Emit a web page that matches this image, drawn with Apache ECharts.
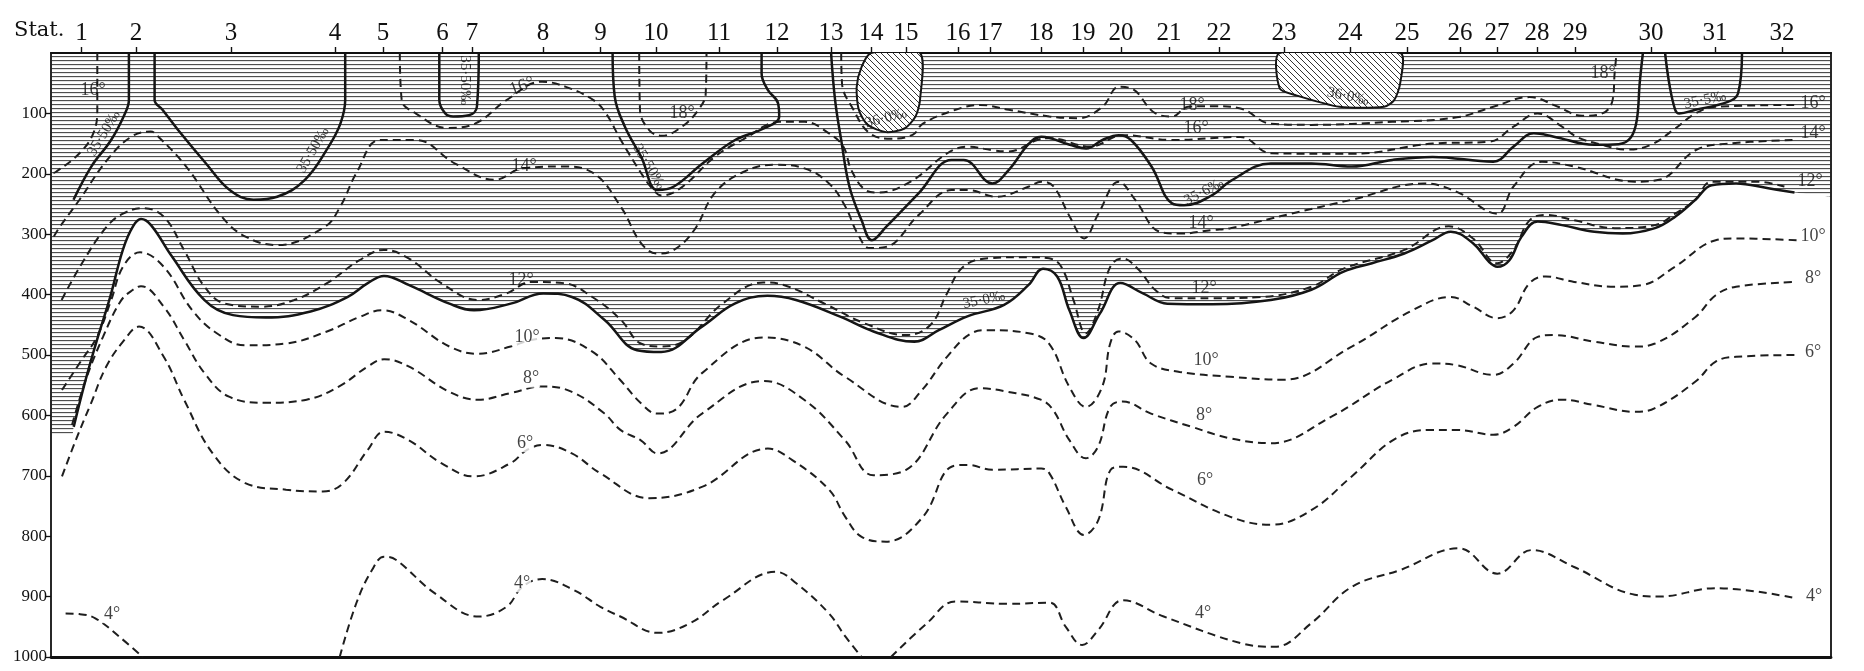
<!DOCTYPE html>
<html><head><meta charset="utf-8">
<script src="https://cdn.jsdelivr.net/npm/echarts@6/dist/echarts.min.js"></script>
<style>html,body{margin:0;padding:0;background:#fff}#c{width:1864px;height:671px}</style>
</head><body><div id="c"></div>
<script>
// ---- stations (distance along section, arbitrary units) ----
const stationNames = ['1','2','3','4','5','6','7','8','9','10','11','12','13','14','15','16','17','18','19','20','21','22','23','24','25','26','27','28','29','30','31','32'];
const stationPos = [30.5,85,180,284,332,391.5,421,492,549.5,605,668,726,780,820,855,907,939,990,1032,1070,1118,1168,1233,1299,1356,1409,1446,1486,1524,1600,1664,1731];
const depthTicks = [100,200,300,400,500,600,700,800,900,1000];
const sectionEnd = 1780;

// ---- isotherms [distance, depth m] ----
const iso4a = [[14.6,928],[28.5,929],[44.3,936],[68,966],[91.7,1000]];
const iso4b = [[288.7,1000],[305.3,911],[321,856],[333,834],[344.8,839],[384.3,895],[427.8,933],[455.5,917],[471.3,884],[491.1,871],[522.7,889],[549.4,917],[569.4,933],[606.6,960],[639.2,944],[671.9,906],[724.9,859],[745.3,878],[778,928],[794.3,966],[810.6,1000]];
const iso4c = [[840,1000],[876,944],[904.5,908],[957.6,912],[998.4,910],[1014.8,950],[1031.1,980],[1047.4,955],[1071.9,906],[1112.7,933],[1189.5,977],[1223.9,983],[1260.3,944],[1300.7,884],[1349.2,856],[1407.9,820],[1446.3,862],[1480.7,823],[1523.1,851],[1583.8,897],[1608.1,900],[1664.7,886],[1745.6,903]];
const iso6 = [[11,701],[25,640],[40,580],[55,520],[72,478],[88,453],[112.7,503],[133.1,574],[161.7,663],[194.3,712],[235.1,723],[271.9,726],[292.3,712],[316.8,657],[333.1,627],[357.6,641],[390.3,679],[422.9,701],[459.7,679],[476,657],[492.3,649],[520.9,663],[549.4,696],[598.4,737],[651.5,718],[716.8,655],[741.3,674],[778,723],[794.3,768],[810.6,801],[835.1,809],[871.9,768],[900.5,685],[916.8,682],[941.3,690],[990.3,688],[998.4,696],[1014.7,751],[1033.1,798],[1047.4,773],[1059.7,690],[1072,685],[1121,723],[1179.4,768],[1219.8,781],[1260.3,757],[1300.7,701],[1345,638],[1381.6,624],[1405.9,624],[1442.3,632],[1462.5,619],[1486.7,586],[1511,574],[1543.4,583],[1583.8,594],[1604,588],[1644.5,544],[1664.7,511],[1685,503],[1745.6,500]];
const iso8 = [[21,616],[35,540],[52,470],[70,410],[82,392],[90,386],[112.7,420],[133.1,475],[153.5,530],[178,569],[214.7,579],[255.6,574],[288.2,552],[316.8,519],[333.1,507],[357.6,519],[398.4,561],[427,574],[459.7,563],[492.3,552],[520.9,561],[553.5,597],[569.4,624],[589.5,641],[606.5,663],[651,597],[712.5,543],[753.1,574],[793.9,641],[822.5,699],[855.1,690],[896,597],[928.6,555],[957.2,561],[989.8,574],[1002.1,591],[1018.4,641],[1034.8,671],[1047,652],[1059.2,586],[1071.5,577],[1100,597],[1140.9,619],[1179.4,638],[1219.8,646],[1280.5,602],[1341.2,541],[1381.6,514],[1405.9,517],[1442.3,533],[1462.5,514],[1486.7,470],[1502.9,467],[1543.4,478],[1583.8,486],[1604,481],[1644.5,437],[1664.7,401],[1685,387],[1745.6,379]];
const iso10 = [[11,558],[30,510],[46,470],[60,410],[72,354],[89,330],[112.7,354],[141.3,426],[165.8,464],[194.3,484],[235.1,481],[276,461],[308.6,437],[331.1,426],[357.6,442],[398.4,486],[427,498],[459.7,486],[480,475],[504.6,472],[541,494],[569,541],[590,580],[606,597],[625,590],[651,530],[712.3,471],[753.1,486],[793.9,536],[851,586],[870,560],[896,503],[920.5,464],[936.8,459],[977.6,464],[998,481],[1018.4,553],[1034.8,586],[1051.1,553],[1059.2,481],[1067.4,461],[1083.7,475],[1100,514],[1128.6,528],[1179.4,536],[1232,541],[1300.7,486],[1361.4,426],[1399.8,404],[1422,420],[1446.3,439],[1462.5,426],[1478.6,381],[1494.8,370],[1523.1,379],[1563.6,387],[1591.9,384],[1623.8,354],[1664.7,310],[1685,307],[1745.6,310]];
const iso12 = [[10.6,409],[31,348],[55.5,288],[72,266],[92.3,257],[112.7,271],[133,326],[153.5,387],[174,415],[210.6,420],[243.3,409],[276,381],[308.6,343],[333,326],[357.6,340],[390.3,381],[427,409],[455.6,398],[480,379],[512.7,381],[541.3,404],[570,442],[589.8,481],[610.2,486],[634.7,475],[671.5,415],[712.3,380],[732.7,384],[773.5,415],[814.3,448],[855,467],[879.6,450],[896,398],[912.3,354],[936.8,340],[977.6,338],[998,340],[1010.3,354],[1022.5,409],[1034.8,464],[1047,426],[1059.2,354],[1071.5,340],[1087.8,359],[1104,392],[1120.5,406],[1161.3,406],[1209.4,404],[1260.3,387],[1292.6,357],[1353.3,326],[1397.8,287],[1422,307],[1446.3,348],[1462.5,326],[1478.6,277],[1494.8,268],[1523.1,277],[1563.6,290],[1604,285],[1624.2,266],[1644.4,243],[1660.6,213],[1705,213],[1733.4,221]];
const iso14 = [[2.8,304],[8.7,288],[28.5,243],[56.2,177],[79.9,139],[99.7,130],[107.6,139],[135.2,188],[170.8,271],[194.5,304],[226.2,318],[273.6,288],[289.4,254],[305.3,199],[329,144],[364.6,144],[404.1,183],[443.7,210],[471.3,191],[510.9,188],[542.5,199],[570,255],[590.2,315],[606.5,332],[622.9,326],[643.3,293],[663.7,232],[692.3,197],[724.9,185],[753.5,191],[778,216],[794.3,254],[806.6,299],[818.8,323],[835.1,321],[867.8,268],[900.5,227],[916.8,227],[945.4,238],[978,221],[990.3,213],[1002.5,221],[1018.8,271],[1033.1,307],[1047.4,266],[1067.8,213],[1084.2,243],[1108.7,296],[1129.1,299],[1161.7,293],[1179.4,290],[1240,266],[1300.7,243],[1373.5,216],[1405.9,230],[1446.3,266],[1462.5,221],[1490.8,180],[1523.1,188],[1583.8,213],[1608.1,210],[1644.5,161],[1676.8,150],[1745.6,144]];
const iso16a = [[46.3,0],[46.3,94],[42.3,133],[28.5,166],[4.8,197],[1,199]];
const iso16b = [[348.8,0],[350.7,78],[364.6,100],[396.2,124],[423.9,117],[455.5,78],[491,47.5],[514.8,56],[542.5,78],[555,100],[569.8,144],[590.2,199],[602.5,227],[610.6,236],[631,222],[663.7,172],[692.3,143],[729,114],[753.5,114],[778,133],[792.3,155],[800.4,194],[814.7,227],[827,231],[859.6,213],[896.4,166],[916.8,155],[941.3,161],[957.6,163],[986.2,144],[998.4,141],[1039.2,155],[1072,136],[1121,144],[1189.5,139],[1219.8,166],[1300.7,167],[1381.6,150],[1438.2,147],[1462.5,122],[1486.7,100],[1511,122],[1527.2,140],[1551.4,152],[1575.7,160],[1600,152],[1624.2,125],[1644.5,100],[1664.7,89],[1745.6,86]];
const iso18a = [[588.2,0],[589,94],[598.4,128],[610.6,137],[631,122],[647.4,94],[654.7,67],[655.5,0]];
const iso18b = [[790.2,0],[791,50],[802.5,94],[818.8,133],[840,142],[862,135],[871.9,117],[904.5,94],[929,86],[957.6,94],[998.4,105],[1027,108],[1051.5,89],[1067.8,56],[1080,58.5],[1104.5,100],[1121,105],[1137.2,89],[1161.7,88],[1189.5,92],[1219.8,117],[1260.3,119],[1341.2,114],[1405.9,106.5],[1442.3,89],[1478.6,73],[1507,89],[1531.2,104],[1551.4,100],[1561.6,78],[1563.6,34],[1565.6,0]];

// ---- isohalines ----
const sal3550a = [[77.9,0],[77.9,78],[74,100],[60.1,144],[40.3,188],[22.5,243]];
const sal3550b = [[103.6,0],[103.6,78],[111.5,94],[127.3,128],[155,183],[178.7,227],[202.5,243],[226.2,238],[253.9,210],[277.6,155],[289.4,117],[294.2,78],[294.2,0]];
const sal3550c = [[388.3,0],[388.3,78],[394.2,100],[402.1,105],[417.9,103],[425.9,89],[427.8,0]];
const sal3550d = [[561.6,0],[563.7,72],[573.9,122],[590.2,172],[606.5,227],[622.9,221],[651.5,183],[684.1,144],[712.7,125],[728.2,105],[727,83],[716.8,61],[710.6,34],[710.6,0]];
const sal356 = [[780.1,0],[784.1,78],[790.2,144],[798.4,221],[810.6,277],[820.9,310],[835.1,288],[867.8,232],[900.5,177],[912.7,177],[941.3,216],[957.6,194],[978,150],[990.3,138.5],[1018.8,152],[1035.2,158],[1051.5,144],[1067.8,136],[1080,144],[1100.5,188],[1121,249],[1133.1,252],[1161.7,235],[1179.4,212],[1219.8,183],[1260.3,183],[1300.7,188],[1341.2,177],[1381.6,172],[1442.3,180],[1462.5,155],[1482.7,133],[1502.9,138.5],[1543.4,152],[1567.6,151],[1579.8,140],[1585.8,111],[1588.7,50],[1591.9,0]];
const sal355 = [[1614.1,0],[1618.2,50],[1624.2,94],[1628.3,100],[1644.5,94],[1676.8,81],[1687,67],[1691,0]];
const sal350 = [[22.7,619],[34,545],[46,475],[59,405],[72,325],[82,287],[90,275],[100,285],[121,337],[153.5,409],[182,434],[214.7,438],[259.6,428],[296.4,404],[316.8,381],[333,369],[357.6,384],[398.4,415],[423,426],[459.7,415],[492.3,398],[521,404],[553.6,442],[586,492],[610.2,495],[651,453],[683.7,415],[716.3,402],[745,409],[789.8,437],[822.5,461],[863.3,478],[887.8,459],[916.4,436],[953.1,417],[977.6,384],[992,357],[1006.2,370],[1018.4,426],[1032.7,472],[1049,431],[1069.4,381],[1092,398],[1116.4,415],[1161.3,416],[1219.8,409],[1260.3,392],[1292.6,362],[1321,348],[1353.3,332],[1381.6,310],[1399.8,296],[1422,315],[1438.2,346],[1446.3,354],[1458.4,343],[1470.6,304],[1486.7,279],[1511,285],[1543.4,296],[1571.7,299],[1604,290],[1624.2,271],[1644.4,243],[1660.6,219],[1685,216],[1717.3,224],[1743.5,231]];
const hatchLeft = [[0,632],[20,632]];
const hatchRight = [[1780,238]];
const sal360a = [[820.1,0],[810.6,23],[805.7,56],[807.8,94],[816.8,119],[835.1,131],[853.5,125],[864.5,105],[869,78],[869,0]];
const sal360b = [[1228.7,0],[1228.7,58.5],[1244.1,69.5],[1288.6,89],[1333.1,89],[1343.2,78],[1349.2,50],[1349.2,0]];

// ---- labels [distance, depth, text] ----
const tempLabels = [[42,61,'16°'],[471,55,'16°'],[473,187,'14°'],[470,376,'12°'],[476,470,'10°'],[480,539,'8°'],[474,646,'6°'],[471,878,'4°'],[61,929,'4°'],
 [631,100,'18°'],[1141,86,'18°'],[1145,125,'16°'],[1150,282,'14°'],[1153,390,'12°'],[1155,508,'10°'],[1153,599,'8°'],[1154,707,'6°'],[1152,928,'4°'],[1552,34,'18°'],
 [1762,83,'16°'],[1762,133,'14°'],[1759,213,'12°'],[1762,304,'10°'],[1762,373,'8°'],[1762,495,'6°'],[1763,900,'4°']];
const tempLabelRotate = [0,20,0,0,0,0,0,0,0, 0,0,0,0,0,0,0,0,0,0, 0,0,0,0,0,0,0];
const tempLabelOnWhite = [0,0,0,0,1,1,1,1,1, 0,0,0,0,0,1,1,1,1,0, 0,0,0,1,1,1,1];
const salLabels = [[53,133,'35·50‰'],[262,161,'35·50‰'],[414,45,'35·50‰'],[598,188,'35·50‰'],[835,108,'36·0‰'],[1153,230,'35·6‰'],[1297,72,'36·0‰'],[1654,78,'35·5‰'],[933,409,'35·0‰']];
const salLabelRotate = [59,60,-90,-59,15,28,-12,12,12];

// ---- patterns ----
function hatchH(){const c=document.createElement('canvas');c.width=16;c.height=4;const g=c.getContext('2d');
 g.fillStyle='rgba(35,35,35,0.8)';g.fillRect(0,0,16,1);g.fillStyle='rgba(35,35,35,0.12)';g.fillRect(0,1,16,1);return c;}
function hatchD(){const s=6,c=document.createElement('canvas');c.width=s;c.height=s;const g=c.getContext('2d');
 g.fillStyle='#fff';g.fillRect(0,0,s,s);g.strokeStyle='rgba(30,30,30,0.9)';g.lineWidth=1;
 g.beginPath();g.moveTo(0,0);g.lineTo(s,s);g.moveTo(-1,s-1);g.lineTo(1,s+1);g.moveTo(s-1,-1);g.lineTo(s+1,1);g.stroke();return c;}
const hPat = {image:hatchH(), repeat:'repeat'};
const dPat = {image:hatchD(), repeat:'repeat'};

const serif = 'Liberation Serif';
const ink = '#111';
const dashed = {color:'#1e1e1e', width:2, type:[8,5]};
const solid = {color:'#151515', width:2.5, type:'solid'};
function L(data, style){return {type:'line', data:data, symbol:'none', smooth:0.4, lineStyle:style, z:4, silent:true};}

const regions = [sal360a, sal360b];
const series = [
 {type:'line', data: hatchLeft.concat(sal350, hatchRight), symbol:'none', smooth:0.4, lineStyle:{width:0, opacity:0},
  areaStyle:{color:hPat, opacity:1}, z:1, silent:true},
 {type:'custom', coordinateSystem:'cartesian2d', clip:true, z:2, silent:true,
  data: regions.map(r => r[0]),
  renderItem: function(params, api){
    const pts = regions[params.dataIndex].map(p => api.coord(p));
    return {type:'polygon', shape:{points:pts, smooth:0.25}, style:{fill:dPat, stroke:'#151515', lineWidth:2}};
  }},
 L(iso4a,dashed), L(iso4b,dashed), L(iso4c,dashed), L(iso6,dashed), L(iso8,dashed), L(iso10,dashed),
 L(iso12,dashed), L(iso14,dashed), L(iso16a,dashed), L(iso16b,dashed), L(iso18a,dashed), L(iso18b,dashed),
 L(sal3550a,solid), L(sal3550b,solid), L(sal3550c,solid), L(sal3550d,solid), L(sal356,solid), L(sal355,solid), L(sal350,solid),
 {type:'scatter', symbolSize:1, itemStyle:{color:'rgba(0,0,0,0)'}, z:6, silent:true,
  label:{show:true, position:'inside', fontFamily:serif, fontSize:18, color:ink},
  data: tempLabels.map((l,i)=>({value:[l[0],l[1]], label:{formatter:l[2], rotate:tempLabelRotate[i],
     backgroundColor: tempLabelOnWhite[i] ? '#fff' : 'transparent', padding:[0,1]}}))},
 {type:'scatter', symbolSize:1, itemStyle:{color:'rgba(0,0,0,0)'}, z:6, silent:true,
  label:{show:true, position:'inside', fontFamily:serif, fontSize:15, color:ink},
  data: salLabels.map((l,i)=>({value:[l[0],l[1]], label:{formatter:l[2], rotate:salLabelRotate[i]}}))}
];

const chart = echarts.init(document.getElementById('c'), null, {renderer:'canvas'});
chart.setOption({
 animation:false, backgroundColor:'#fff',
 grid:{left:51, right:33, top:53, bottom:14, containLabel:false},
 graphic:[{type:'text', left:14, top:20, style:{text:'Stat.', font:'21px "DejaVu Serif"', fill:ink}}],
 xAxis:[
  {type:'value', min:0, max:sectionEnd, position:'top',
   axisLine:{show:true, onZero:false, lineStyle:{color:ink, width:2.2}},
   axisTick:{show:true, length:6, customValues:stationPos, lineStyle:{color:ink, width:1.4}},
   axisLabel:{show:true, customValues:stationPos, margin:7, fontFamily:serif, fontSize:25, color:ink,
     formatter: v => { const i = stationPos.indexOf(v); return i >= 0 ? stationNames[i] : ''; }},
   splitLine:{show:false}},
  {type:'value', min:0, max:sectionEnd, position:'bottom',
   axisLine:{show:true, onZero:false, lineStyle:{color:ink, width:2.8}},
   axisTick:{show:false}, axisLabel:{show:false}, splitLine:{show:false}}
 ],
 yAxis:[
  {type:'value', min:0, max:1000, interval:100, inverse:true, position:'left',
   axisLine:{show:true, onZero:false, lineStyle:{color:ink, width:1.8}},
   axisTick:{show:true, length:5, customValues:depthTicks, lineStyle:{color:ink, width:1.3}},
   axisLabel:{show:true, customValues:depthTicks, margin:4, fontFamily:serif, fontSize:17, color:ink,
     formatter: v => String(v)},
   splitLine:{show:false}},
  {type:'value', min:0, max:1000, inverse:true, position:'right',
   axisLine:{show:true, onZero:false, lineStyle:{color:ink, width:1.8}},
   axisTick:{show:false}, axisLabel:{show:false}, splitLine:{show:false}}
 ],
 series: series
});
</script>
</body></html>
